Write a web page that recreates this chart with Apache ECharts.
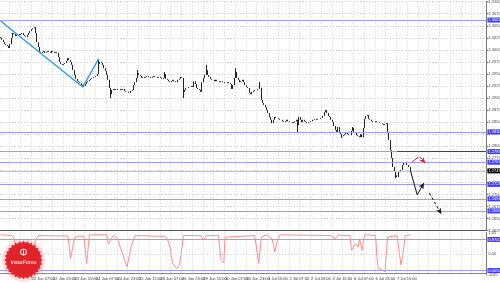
<!DOCTYPE html>
<html><head><meta charset="utf-8">
<script src="https://cdn.jsdelivr.net/npm/echarts@6/dist/echarts.min.js"></script>
<style>html,body{margin:0;padding:0;background:#fff}#c{width:500px;height:283px}</style>
</head><body><div id="c"></div>
<script>
// Hourly closes, price x 10000
const closesPips = [
13025,13021,13016,13012,13010,13008,13004,13012,13025,13035,
13033,13029,13031,13033,13031,13033,13035,13031,13029,13027,
13031,13035,13039,13043,13045,13047,13035,13016,13006,12996,
12994,12996,12998,12994,12996,12998,12996,12994,12998,12996,
12994,12996,12994,12985,12975,12971,12969,12971,12973,12977,
12983,12979,12975,12969,12958,12948,12940,12935,12933,12931,
12927,12923,12925,12929,12933,12935,12938,12940,12942,12944,
12944,12946,12950,12971,12975,12973,12969,12962,12956,12948,
12938,12921,12908,12917,12919,12917,12919,12917,12917,12919,
12917,12919,12915,12913,12913,12911,12911,12915,12917,12927,
12933,12942,12952,12948,12946,12942,12944,12942,12944,12946,
12944,12944,12942,12944,12946,12944,12944,12942,12944,12942,
12940,12942,12950,12940,12938,12935,12933,12935,12938,12935,
12933,12933,12938,12940,12944,12942,12913,12917,12921,12921,
12923,12923,12925,12923,12935,12929,12921,12919,12917,12913,
12933,12942,12948,12958,12948,12944,12940,12938,12938,12935,
12938,12935,12935,12933,12935,12933,12933,12931,12931,12933,
12931,12929,12919,12927,12942,12954,12942,12938,12933,12935,
12938,12933,12927,12923,12921,12911,12908,12913,12915,12917,
12917,12919,12919,12921,12896,12890,12886,12881,12875,12869,
12861,12855,12848,12855,12861,12859,12859,12857,12855,12855,
12852,12850,12852,12855,12852,12850,12850,12848,12850,12852,
12855,12844,12861,12855,12850,12855,12852,12850,12848,12850,
12850,12852,12855,12855,12857,12855,12857,12857,12859,12859,
12863,12871,12875,12869,12863,12861,12855,12850,12842,12834,
12830,12840,12830,12825,12821,12823,12825,12828,12825,12823,
12823,12832,12838,12830,12828,12823,12821,12819,12825,12819,
12838,12857,12863,12865,12857,12855,12852,12850,12850,12852,
12850,12850,12848,12848,12846,12844,12846,12848,12830,12813,
12792,12776,12757,12747,12740,12736,12747,12749,12751,12761,
12767,12765,12761,12761,12757,12749
];
const firstOpenPips = 13027;
// [bar, 'h'|'l', price x 10000] wick extremes
const wickExtremes = [[73,'h',12979],[82,'l',12900],[102,'h',12958],[122,'h',12954],[136,'l',12900],
  [153,'h',12969],[175,'h',12962],[193,'h',12933],[221,'l',12828],[254,'l',12817],[262,'h',12840],[294,'l',12734]];
const tickLabels = ['19 Jun 15:00','22 Jun 07:00','22 Jun 23:00','23 Jun 15:00','24 Jun 07:00','24 Jun 23:00',
  '25 Jun 15:00','26 Jun 07:00','26 Jun 23:00','29 Jun 15:00','30 Jun 07:00','30 Jun 23:00','1 Jul 15:00',
  '2 Jul 07:00','2 Jul 23:00','3 Jul 15:00','6 Jul 07:00','6 Jul 23:00','7 Jul 15:00'];
const firstTickBar = 7, barsPerTick = 16, totalSlots = 362;
const levelPrices = [1.3062, 1.2830, 1.2789, 1.2767, 1.2721, 1.2691, 1.2666];
const currentPrice = 1.2749;
const redLevel = [295, 1.2789];
const trendLine = [[0,1.3060],[61,1.2923],[73,1.2982]];
const blackSolid = [[305,1.2749],[310,1.2699]];
const blackArrow = [[310,1.2699],[315,1.2724]];
const blackDashArrow = [[319,1.2703],[328,1.2659]];
const redSolid = [[306,1.2767],[311,1.2778]];
const redDashArrow = [[312,1.2778],[316,1.2765]];
// oscillator vertices [bar, value]
const oscillator = [[0,0.99],[7,0.98],[9,0.96],[13,0.55],[17,0.12],[20,0.05],[23,0.35],[26,0.85],[28,0.97],
 [50,0.96],[52,0.38],[55,0.92],[58,0.96],[62,0.95],[64,0.25],[66,0.99],[79,0.99],[80,0.76],[84,0.97],[87,0.89],
 [89,0.67],[94,0.16],[97,0.67],[100,0.97],[122,0.95],[124,0.89],[126,0.67],[128,0.25],[131,0.12],[132,0.08],
 [133,0.21],[135,0.67],[136,0.97],[149,0.97],[151,0.85],[153,0.97],[162,0.97],[164,0.33],[166,0.26],[167,0.93],
 [189,0.97],[191,0.51],[192,0.25],[194,0.93],[198,0.99],[202,0.89],[204,0.55],[206,0.85],[208,0.99],[246,0.97],
 [249,0.89],[251,0.98],[260,0.97],[261,0.59],[264,0.76],[265,0.80],[266,0.67],[267,0.89],[269,0.59],[270,0.85],
 [271,0.99],[279,0.97],[280,0.42],[281,0.12],[284,0.08],[286,0.03],[287,0.51],[288,0.93],[295,0.97],[297,0.42],
 [298,0.21],[300,0.67],[301,0.97],[305,0.99]];
const oscLevels = [0.87, 0.065];
const oscScaleLabels = [1.05, 0.5, -0.05];

const candles = closesPips.map((c, i) => {
  const o = i ? closesPips[i-1] : firstOpenPips;
  return [o/1e4, c/1e4, Math.min(o,c)/1e4, Math.max(o,c)/1e4];
});
wickExtremes.forEach(([i, t, p]) => { if (t === 'h') candles[i][3] = p/1e4; else candles[i][2] = p/1e4; });

const labelAt = {};
tickLabels.forEach((t, k) => { labelAt[firstTickBar + k*barsPerTick] = t; });
const categories = [];
for (let i = 0; i < totalSlots; i++) categories.push('b' + i);

const FONT = 'Liberation Sans';
const FS = 4;
const chart = echarts.init(document.getElementById('c'), null, {renderer:'canvas'});
const boxLabel = (bg, dec) => ({show:true, position:'end', distance:1, fontSize:FS, fontFamily:FONT, color:'#fff',
  backgroundColor:bg, padding:[1,1,0,1], formatter: p => Number(p.value).toFixed(dec)});
const seg = (pts, color, dashed, arrow) => [
  {coord: pts[0], symbol:'none'},
  {coord: pts[1], symbol: arrow ? 'arrow' : 'none', symbolSize:[4,6], lineStyle:{color, width:1, type: dashed ? [3,2] : 'solid'}}
];

const W = totalSlots * (21.5/16);
const vSplit = (i) => i >= firstTickBar && (i - firstTickBar) % 8 === 0;

// logo polygon
const logoPts = [];
for (let k = 0; k < 56; k++) {
  const r = k % 2 ? 17.2 : 19.2, a = k/56*Math.PI*2;
  logoPts.push([23.5 + r*Math.cos(a), 260 + r*Math.sin(a)]);
}

chart.setOption({
  animation:false,
  backgroundColor:'#fff',
  grid:[
    {left:0, top:1.7, width:W, height:228.95, outerBoundsMode:'none', containLabel:false},
    {left:0, top:232.5, width:W, height:42.5, outerBoundsMode:'none', containLabel:false}
  ],
  xAxis:[
    {type:'category', gridIndex:0, data:categories, boundaryGap:true,
     axisLine:{show:true, lineStyle:{color:'#555', width:1.2}}, axisTick:{show:false}, axisLabel:{show:false},
     splitLine:{show:true, interval:vSplit, lineStyle:{color:'#d0d0d0', width:1, type:[1,2]}}},
    {type:'category', gridIndex:1, data:categories, boundaryGap:true,
     axisLine:{show:true, lineStyle:{color:'#888'}}, axisTick:{show:false},
     axisLabel:{show:true, interval:(i)=> labelAt[i] !== undefined, formatter:(v,i)=> labelAt[i] || '',
       align:'left', fontSize:FS, fontFamily:FONT, color:'#333', margin:2},
     splitLine:{show:true, interval:vSplit, lineStyle:{color:'#d0d0d0', width:1, type:[1,2]}}}
  ],
  yAxis:[
    {type:'value', gridIndex:0, position:'right', min:1.2625, max:1.3100, interval:0.0025,
     axisLine:{show:true, lineStyle:{color:'#777'}}, axisTick:{show:true, length:2, lineStyle:{color:'#777'}},
     axisLabel:{fontSize:FS, fontFamily:FONT, color:'#444', margin:2, formatter:v=>v.toFixed(4)},
     splitLine:{show:true, lineStyle:{color:'#d0d0d0', width:1, type:[1,2]}}},
    {type:'value', gridIndex:1, position:'right', min:-0.05, max:1.05,
     axisLine:{show:true, lineStyle:{color:'#777'}}, axisTick:{show:false},
     axisLabel:{fontSize:FS, fontFamily:FONT, color:'#444', margin:2, customValues:oscScaleLabels, formatter:v=>v.toFixed(2)},
     splitLine:{show:false}}
  ],
  series:[
    {type:'candlestick', xAxisIndex:0, yAxisIndex:0, data:candles, barWidth:1.2, z:3,
     itemStyle:{color:'#222', color0:'#222', borderColor:'#222', borderColor0:'#222', borderWidth:1},
     markLine:{silent:true, symbol:['none','none'], animation:false, precision:4,
       data:[
         ...levelPrices.map(p => ({yAxis:p, lineStyle:{color:'#9a9aff', width:1.2, type:'solid'}, label:boxLabel('#3c3cff',4)})),
         {yAxis:currentPrice, lineStyle:{color:'#c4c4c4', width:1, type:'solid'}, label:boxLabel('#000',4)},
         [{coord:redLevel, symbol:'none'}, {coord:[totalSlots-1, redLevel[1]], symbol:'none', lineStyle:{color:'#e00000', width:1.2, type:'solid'}, label:{show:false}}]
       ]}},
    {type:'line', xAxisIndex:0, yAxisIndex:0, data:trendLine, symbol:'none', z:4,
     lineStyle:{color:'#2b9cf2', width:1.4},
     markLine:{silent:true, animation:false, precision:4, label:{show:false},
       data:[
         seg(blackSolid,'#111',false,false),
         seg(blackArrow,'#111',false,true),
         seg(blackDashArrow,'#111',true,true),
         seg(redSolid,'#e02020',false,false),
         seg(redDashArrow,'#e02020',true,true)
       ]}},
    {type:'line', xAxisIndex:1, yAxisIndex:1, data:oscillator, symbol:'none', z:3,
     lineStyle:{color:'#ff8c8c', width:1},
     markLine:{silent:true, symbol:['none','none'], animation:false, precision:4,
       data:[
         ...oscLevels.map(v => ({yAxis:v, lineStyle:{color:'#9a9aff', width:1.2, type:'solid'}, label:boxLabel('#3c3cff',4)})),
         {yAxis:0.5, lineStyle:{color:'#d0d0d0', width:1, type:[1,2]}, label:{show:false}}
       ]}}
  ],
  graphic:[
    {type:'circle', z:100, shape:{cx:23.5, cy:260, r:21.5}, style:{fill:'rgba(240,120,120,0.25)'}},
    {type:'polygon', z:101, shape:{points:logoPts}, style:{fill:'#e5262c'}},
    {type:'circle', z:102, shape:{cx:23.5, cy:260, r:15.5}, style:{fill:'#df2329'}},
    {type:'circle', z:103, shape:{cx:23.5, cy:252, r:3}, style:{fill:'none', stroke:'#fff', lineWidth:1}},
    {type:'line', z:103, shape:{x1:23.5, y1:250, x2:23.5, y2:255}, style:{stroke:'#fff', lineWidth:1}},
    {type:'text', z:103, x:23.5, y:262, style:{text:'InstaForex', fill:'#fff', font:'5.5px "Liberation Sans"', align:'center', verticalAlign:'middle'}}
  ]
});
</script></body></html>
